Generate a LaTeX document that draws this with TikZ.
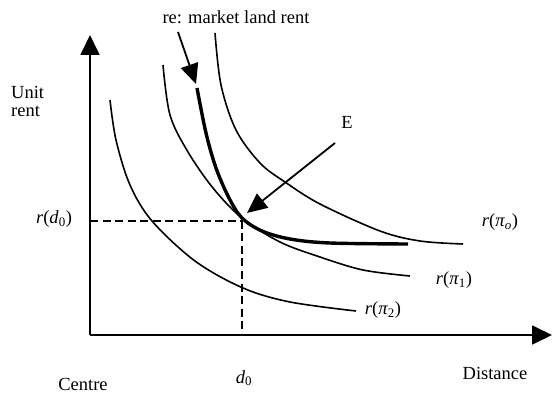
\documentclass[tikz,border=0pt]{standalone}
\usepackage{fontspec}
\setmainfont{Liberation Serif}
\usetikzlibrary{arrows.meta}
\begin{document}
\begin{tikzpicture}[x=1pt,y=-1pt,
  lbl/.style={inner sep=0pt,font=\fontsize{18.5}{21}\selectfont},
  axis/.style={line width=1.8pt,-{Triangle[length=20pt,width=19pt]}},
  curve/.style={line width=1.6pt},
  thickcurve/.style={line width=3.4pt},
  guide/.style={line width=1.5pt,dash pattern=on 8pt off 4.5pt},
  pointer/.style={line width=1.8pt,-{Triangle[length=20pt,width=18pt]}}]
\useasboundingbox (0,0) rectangle (557,398);
% axes
\coordinate (O) at (90,335);
\coordinate (Ytop) at (90,35);
\coordinate (Xend) at (552,335);
\draw[axis] (O) -- (Ytop);
\draw[axis] (O) -- (Xend);
% dashed guides
\coordinate (E) at (242,221);
\coordinate (Ey) at (90,221);
\coordinate (Ex) at (242,335);
\draw[guide] (Ey) -- (E);
\draw[guide] (E) -- (Ex);
% bid-rent curves
\draw[curve] plot[smooth,tension=0.55] coordinates {(110,100) (116,140) (130,185) (152,221) (195,261) (243,288) (290,302) (356,311)};
\draw[curve] plot[smooth,tension=0.55] coordinates {(163,65) (170,115) (188,152) (213,188) (242,218) (280,242) (320,257) (363,270) (410,276)};
\draw[curve] plot[smooth,tension=0.55] coordinates {(215,33) (221,85) (236,130) (260,163) (285,182) (320,204) (380,231) (420,241) (463,244)};
% market land rent
\draw[thickcurve] plot[smooth,tension=0.55] coordinates {(197,88) (206,133) (216,168) (229,198) (242,218) (262,231) (290,239) (330,243) (408,244)};
% pointers
\coordinate (reS) at (178,32);
\coordinate (reT) at (196,84);
\draw[pointer] (reS) -- (reT);
\coordinate (eS) at (335,143);
\coordinate (eT) at (247,213);
\draw[pointer] (eS) -- (eT);
% labels
\node[lbl] (re) at (236,17) {re: market land rent};
\node[lbl] (Elbl) at (347,122) {E};
\node[lbl,align=left,anchor=north west] (unit) at (11,86) {Unit\\[-3pt]rent};
\node[lbl] (rd0) at (54,219) {\textit{r}(\textit{d}\textsubscript{0})};
\node[lbl] (rp0) at (500,222) {\textit{r}(\textit{π}\textsubscript{\textit{o}})};
\node[lbl] (rp1) at (454,280) {\textit{r}(\textit{π}\textsubscript{1})};
\node[lbl] (rp2) at (383,310) {\textit{r}(\textit{π}\textsubscript{2})};
\node[lbl] (centre) at (83,384) {Centre};
\node[lbl] (d0) at (244,378) {\textit{d}\textsubscript{0}};
\node[lbl] (dist) at (495,373) {Distance};
\end{tikzpicture}
\end{document}
